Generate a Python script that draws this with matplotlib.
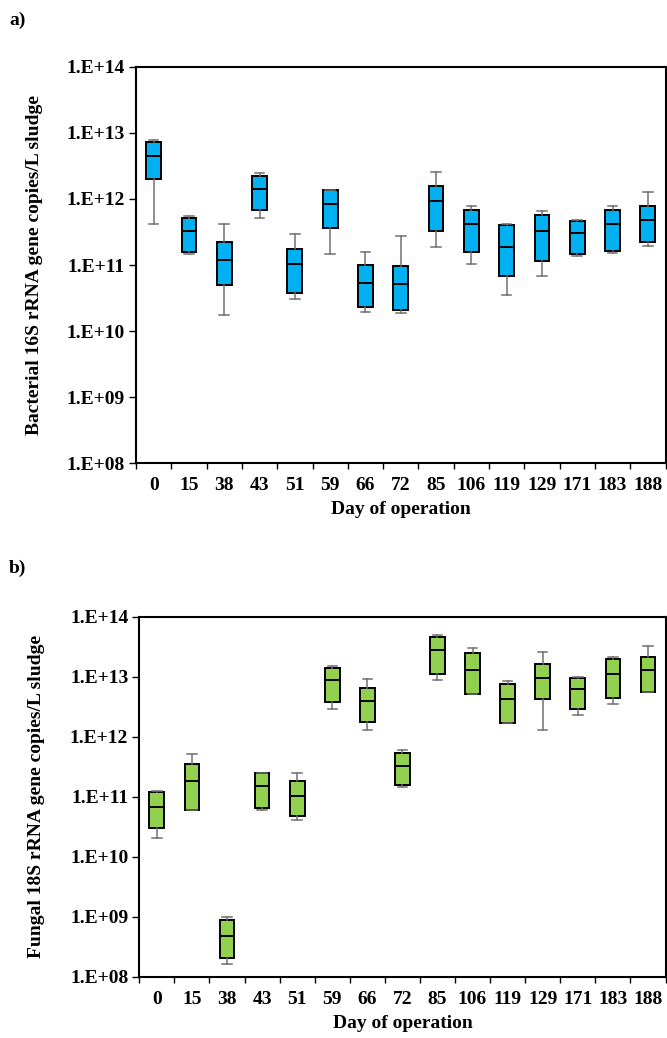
import numpy as np
import matplotlib
matplotlib.use("Agg")
import matplotlib.pyplot as plt
from matplotlib.ticker import FixedLocator, FuncFormatter, NullLocator

plt.rcParams['font.family'] = ['Liberation Serif', 'DejaVu Serif']
plt.rcParams['font.weight'] = 'bold'

days = ["0", "15", "38", "43", "51", "59", "66", "72", "85", "106", "119", "129", "171", "183", "188"]

# Bacterial 16S rRNA gene copies/L sludge
bac_min = [4.2e11, 1.48e11, 1.75e10, 5.2e11, 3.1e10, 1.46e11, 1.94e10, 1.87e10, 1.84e11, 1.02e11, 3.46e10, 6.7e10, 1.39e11, 1.53e11, 1.93e11]
bac_q1 = [2.03e12, 1.58e11, 4.95e10, 6.7e11, 3.75e10, 3.65e11, 2.28e10, 2.1e10, 3.28e11, 1.58e11, 6.8e10, 1.14e11, 1.46e11, 1.64e11, 2.2e11]
bac_med = [4.4e12, 3.3e11, 1.17e11, 1.43e12, 1.04e11, 8.3e11, 5.4e10, 5.1e10, 9.3e11, 4.2e11, 1.84e11, 3.3e11, 3.0e11, 4.1e11, 4.8e11]
bac_q3 = [7.2e12, 5.2e11, 2.19e11, 2.23e12, 1.77e11, 1.34e12, 1.0e11, 9.5e10, 1.59e12, 6.7e11, 4.0e11, 5.8e11, 4.6e11, 6.9e11, 7.8e11]
bac_max = [7.7e12, 5.5e11, 4.2e11, 2.5e12, 2.9e11, 1.38e12, 1.55e11, 2.7e11, 2.56e12, 7.9e11, 4.2e11, 6.6e11, 4.8e11, 7.8e11, 1.26e12]

# Fungal 18S rRNA gene copies/L sludge
fun_min = [2.02e10, 6.1e10, 1.65e8, 6.0e10, 4.08e10, 2.93e12, 1.29e12, 1.45e11, 8.9e12, 5.1e12, 1.69e12, 1.29e12, 2.33e12, 3.5e12, 5.6e12]
fun_q1 = [2.97e10, 6.1e10, 2.07e8, 6.6e10, 4.76e10, 3.8e12, 1.78e12, 1.56e11, 1.09e13, 5.1e12, 1.69e12, 4.2e12, 2.93e12, 4.5e12, 5.6e12]
fun_med = [6.8e10, 1.8e11, 4.7e8, 1.52e11, 1.04e11, 8.9e12, 3.98e12, 3.3e11, 2.78e13, 1.29e13, 4.3e12, 9.6e12, 6.2e12, 1.11e13, 1.29e13]
fun_q3 = [1.18e11, 3.55e11, 8.9e8, 2.45e11, 1.82e11, 1.41e13, 6.6e12, 5.3e11, 4.6e13, 2.45e13, 7.5e12, 1.63e13, 9.6e12, 2.0e13, 2.15e13]
fun_max = [1.23e11, 5.2e11, 9.9e8, 2.5e11, 2.5e11, 1.49e13, 9.1e12, 6.1e11, 4.95e13, 3.0e13, 8.6e12, 2.58e13, 1.0e13, 2.15e13, 3.3e13]

ytick_vals = [1e8, 1e9, 1e10, 1e11, 1e12, 1e13, 1e14]

W, H = 667, 1038
fig = plt.figure(figsize=(W / 100, H / 100), dpi=100)
FS = 14


def make_panel(rect, mins, q1s, meds, q3s, maxs, color, ylabel, ylabel_x):
    ax = fig.add_axes(rect)
    stats = []
    for lo, a, m, b, hi in zip(mins, q1s, meds, q3s, maxs):
        stats.append(dict(whislo=lo, q1=a, med=m, q3=b, whishi=hi, fliers=[]))
    pos = np.arange(len(stats))
    ax.bxp(stats, positions=pos, widths=0.42, patch_artist=True,
           showfliers=False, capwidths=0.27,
           boxprops=dict(facecolor=color, edgecolor='black', linewidth=1.4),
           medianprops=dict(color='black', linewidth=1.4),
           whiskerprops=dict(color='#707070', linewidth=1.1),
           capprops=dict(color='#707070', linewidth=1.1),
           manage_ticks=False)
    ax.set_yscale('log')
    ax.set_ylim(1e8, 1e14)
    ax.set_xlim(-0.5, len(stats) - 0.5)
    ax.yaxis.set_major_locator(FixedLocator(ytick_vals))
    ax.yaxis.set_minor_locator(NullLocator())
    ax.yaxis.set_major_formatter(FuncFormatter(lambda v, p: "1.E+%02d" % int(round(np.log10(v)))))
    ax.set_xticks(pos)
    ax.set_xticklabels(days)
    ax.set_xticks(np.arange(len(stats) + 1) - 0.5, minor=True)
    ax.tick_params(axis='x', which='major', length=0, pad=10, labelsize=FS)
    ax.tick_params(axis='x', which='minor', length=4, width=1.0, direction='out')
    ax.tick_params(axis='y', which='major', length=5, width=1.0, direction='out', pad=3, labelsize=FS)
    for lab in ax.get_xticklabels() + ax.get_yticklabels():
        lab.set_fontweight('bold')
    for sp in ax.spines.values():
        sp.set_linewidth(1.5)
        sp.set_color('black')
    ax.set_xlabel("Day of operation", fontsize=FS, fontweight='bold', labelpad=5)
    ax.set_ylabel(ylabel, fontsize=FS, fontweight='bold')
    ax.yaxis.set_label_coords(ylabel_x, 0.5)
    return ax


ax1 = make_panel([136 / W, 1 - 463.3 / H, 529.5 / W, 396.6 / H],
                 bac_min, bac_q1, bac_med, bac_q3, bac_max, '#00B0F0',
                 "Bacterial 16S rRNA gene copies/L sludge", -0.175)
ax2 = make_panel([139.3 / W, 1 - 976.7 / H, 526.2 / W, 360 / H],
                 fun_min, fun_q1, fun_med, fun_q3, fun_max, '#92D050',
                 "Fungal 18S rRNA gene copies/L sludge", -0.18)

fig.text(9 / W, 1 - 20 / H, "a)", fontsize=FS, fontweight='bold', va='center', ha='left')
fig.text(9 / W, 1 - 568 / H, "b)", fontsize=FS, fontweight='bold', va='center', ha='left')

fig.savefig("out.png", dpi=100, facecolor='white')
